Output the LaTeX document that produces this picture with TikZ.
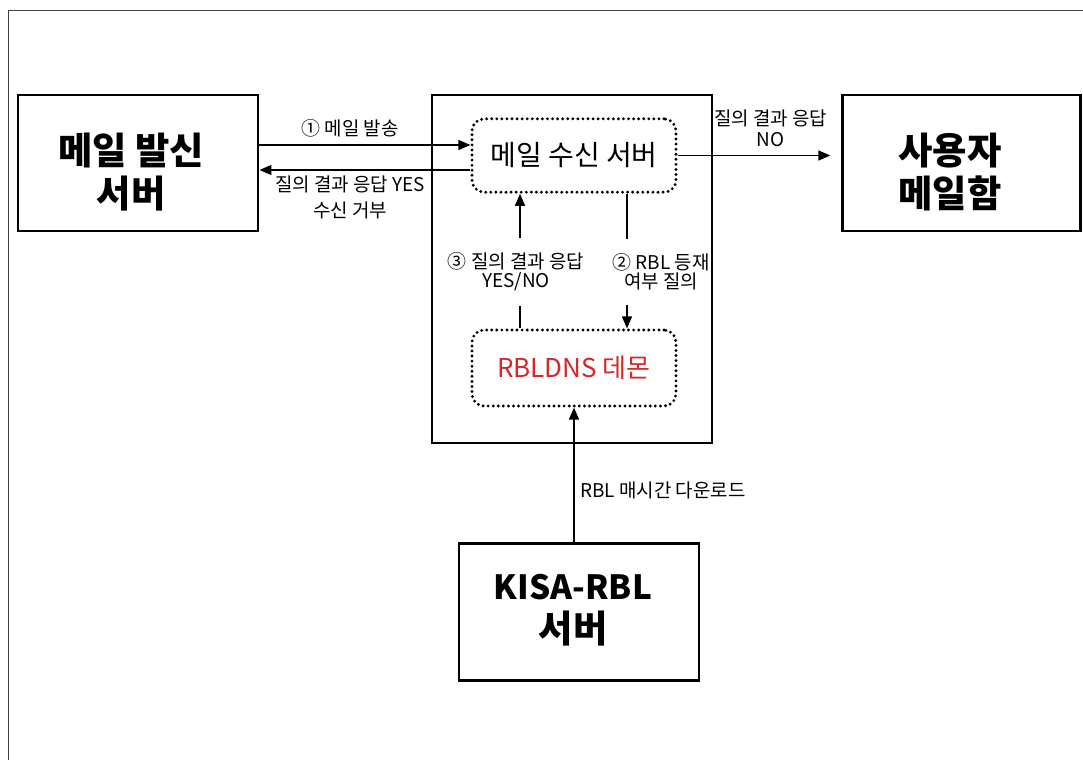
\documentclass[tikz,border=0pt]{standalone}
\usepackage{fontspec}
\setmainfont{Noto Sans CJK KR}
\usepackage{tikz}
\usetikzlibrary{arrows.meta}
\usetikzlibrary{calc}
\usetikzlibrary{positioning}
\definecolor{rblred}{RGB}{215,40,40}

\begin{document}
\begin{tikzpicture}[x=0.75pt,y=-0.75pt,
  box/.style={draw,line width=2.2pt,inner sep=0pt},
  big/.style={align=center,font=\bfseries\fontsize{28}{32}\selectfont,inner sep=0pt},
  dbox/.style={draw,line width=2.4pt,dash pattern=on 0pt off 3.8pt,line cap=round,rounded corners=9pt,inner sep=0pt,minimum width=153pt},
  arr/.style={line width=1.1pt,-{Triangle[length=9pt,width=7.5pt]}},
  lin/.style={line width=1.1pt},
  lab/.style={align=center,font=\fontsize{14.2}{16}\selectfont,inner sep=1pt}]
  \useasboundingbox (0,0) rectangle (1083,760);
  \draw[black!75,line width=0.75pt](8,760)--(8,10)--(1083,10);

  % boxes
  \node[box,minimum width=180pt,minimum height=102pt] (snd) at (138,163){};
  \node[box,minimum width=210pt,minimum height=261pt] (srv) at (572,269){};
  \node[dbox,minimum height=55pt,font=\fontsize{21}{24}\selectfont] (mrv) at (574,155.5){메일 수신 서버};
  \node[dbox,minimum height=57pt,text=rblred,font=\fontsize{19.5}{24}\selectfont] (rbl) at (574,368){RBLDNS 데몬};
  \node[box,minimum width=178pt,minimum height=102pt] (usr) at (961.5,163){};
  \node[box,minimum width=180pt,minimum height=103pt] (kisa) at (579,612){};

  \node[big] (sndt) at (131,172){메일 발신\\서버};
  \node[big] (usrt) at (950,172){사용자\\메일함};
  \node[big] (kisat) at (573,610){{\fontsize{25}{32}\selectfont KISA-RBL}\\서버};

  \coordinate (p1) at ($(mrv.west)+(0,-10.5)$);
  \coordinate (p2) at ($(mrv.west)+(0,14.5)$);
  \coordinate (p3) at ($(usr.west |- mrv.east)+(-11,0)$);
  \coordinate (q3) at (520,0);
  \coordinate (q2) at (627,0);

  \draw[arr](snd.east |- p1)--(p1) node[lab,pos=0.43,above=4pt]{① 메일 발송};
  \draw[arr](p2)--(snd.east |- p2) node[lab,pos=0.57,below=3pt]{질의 결과 응답 YES\\[3pt]수신 거부};
  \draw[arr](mrv.east)--(p3) node[lab,pos=0.61,above=5pt]{질의 결과 응답\\NO};

  \node[lab,inner sep=11pt] (l3) at (516,272){③ 질의 결과 응답\\[-1.5pt]YES/NO};
  \node[lab,inner sep=11pt] (l2) at (661,272){② RBL 등재\\[-1.5pt]여부 질의};
  \draw[lin](rbl.north -| q3)--(l3.south -| q3);
  \draw[arr](l3.north -| q3)--(mrv.south -| q3);
  \draw[lin](mrv.south -| q2)--(l2.north -| q2);
  \draw[arr](l2.south -| q2)--(rbl.north -| q2);

  \draw[arr](kisa.north -| rbl.south)--(rbl.south);
  \node[lab] (l5) at (663,490){RBL 매시간 다운로드};
\end{tikzpicture}
\end{document}
